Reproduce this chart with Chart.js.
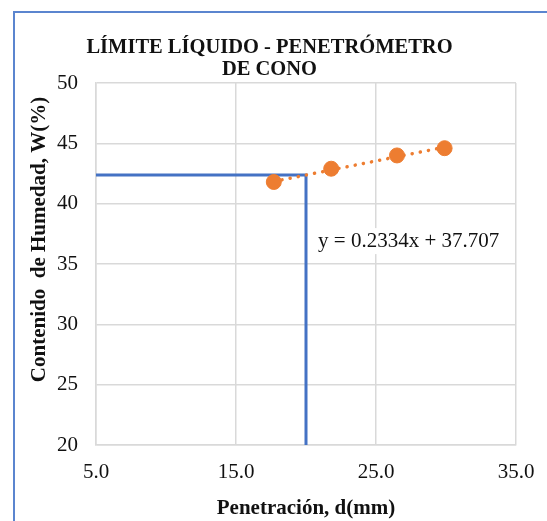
<!DOCTYPE html>
<html>
<head>
<meta charset="utf-8">
<script src="https://cdn.jsdelivr.net/npm/chart.js@4.4.1/dist/chart.umd.min.js"></script>
<style>
  html, body { margin: 0; padding: 0; background: #fff; }
  #wrap { position: relative; width: 547px; height: 521px; overflow: hidden; }
  #frame { position: absolute; left: 13px; top: 11px; width: 600px; height: 600px;
           border-left: 2px solid #5b85cf; border-top: 2px solid #5b85cf; }
  canvas { position: absolute; left: 0; top: 0; }
</style>
</head>
<body>
<div id="wrap">
  <div id="frame"></div>
  <canvas id="c" width="547" height="521"></canvas>
</div>
<script>
// ---- data ----
const penetration = [17.7, 21.8, 26.5, 29.9];   // d (mm)
const moisture    = [41.8, 42.9, 44.0, 44.6];   // W (%)
const trendSlope = 0.2334;
const trendIntercept = 37.707;
const targetPenetration = 20;                   // mm
const xTicks = [5, 15, 25, 35];
const yTicks = [20, 25, 30, 35, 40, 45, 50];
const titleLines = ['LÍMITE LÍQUIDO - PENETRÓMETRO', 'DE CONO'];
const xTitle = 'Penetración, d(mm)';
const yTitle = 'Contenido  de Humedad, W(%)';
const equationText = 'y = 0.2334x + 37.707';

// ---- derived ----
const points = penetration.map((x, i) => ({ x, y: moisture[i] }));
const xMinData = Math.min(...penetration), xMaxData = Math.max(...penetration);
const trend = [xMinData, xMaxData].map(x => ({ x, y: trendSlope * x + trendIntercept }));
const llValue = trendSlope * targetPenetration + trendIntercept;
const guide = [
  { x: xTicks[0], y: llValue },
  { x: targetPenetration, y: llValue },
  { x: targetPenetration, y: yTicks[0] }
];

const SERIF = '"Liberation Serif", "Times New Roman", serif';

const overlay = {
  id: 'overlay',
  afterDraw(chart) {
    const ctx = chart.ctx;
    const xs = chart.scales.x, ys = chart.scales.y;
    // equation label
    ctx.save();
    ctx.font = '21px ' + SERIF;
    const ex = xs.getPixelForValue(20.86), ey = ys.getPixelForValue(36.9);
    const w = ctx.measureText(equationText).width;
    ctx.fillStyle = '#fff';
    ctx.fillRect(ex - 5, ey - 13, w + 10, 26);
    ctx.fillStyle = '#111';
    ctx.textBaseline = 'middle';
    ctx.textAlign = 'left';
    ctx.fillText(equationText, ex, ey);
    ctx.restore();
    // y axis title
    ctx.save();
    ctx.font = 'bold 21px ' + SERIF;
    ctx.fillStyle = '#111';
    ctx.translate(40, 239.5);
    ctx.rotate(-Math.PI / 2);
    ctx.textAlign = 'center';
    ctx.textBaseline = 'middle';
    ctx.fillText(yTitle, 0, 0);
    ctx.restore();
  }
};

new Chart(document.getElementById('c'), {
  type: 'scatter',
  data: {
    datasets: [
      {
        label: 'guide',
        data: guide,
        showLine: true,
        borderColor: '#4472C4',
        borderWidth: 3,
        pointRadius: 0,
        fill: false,
        clip: false,
        order: 3
      },
      {
        label: 'trend',
        data: trend,
        showLine: true,
        borderColor: '#ED7D31',
        borderWidth: 3.5,
        borderDash: [0.1, 8.2],
        borderCapStyle: 'round',
        pointRadius: 0,
        fill: false,
        order: 2
      },
      {
        label: 'data',
        data: points,
        backgroundColor: '#ED7D31',
        borderColor: '#ED7D31',
        pointRadius: 7.5,
        pointHoverRadius: 7.5,
        order: 1
      }
    ]
  },
  options: {
    responsive: false,
    animation: false,
    events: [],
    layout: { padding: { left: 23, right: 31, top: 0, bottom: 0 } },
    plugins: {
      legend: { display: false },
      tooltip: { enabled: false },
      title: {
        display: true,
        text: titleLines,
        color: '#111',
        font: { family: SERIF, size: 20.5, weight: 'bold', lineHeight: 1.05 },
        padding: { top: 37, bottom: 3 }
      }
    },
    scales: {
      x: {
        type: 'linear',
        min: xTicks[0],
        max: xTicks[xTicks.length - 1],
        afterBuildTicks(scale) { scale.ticks = xTicks.map(v => ({ value: v })); },
        afterFit(scale) { scale.height = 76; scale.paddingLeft = 0; scale.paddingRight = 0; },
        ticks: {
          color: '#111',
          font: { family: SERIF, size: 21 },
          padding: 15,
          callback: v => Number(v).toFixed(1)
        },
        grid: { color: '#d9d9d9', lineWidth: 1.5, drawTicks: false },
        border: { color: '#d9d9d9', width: 1.5 },
        title: {
          display: true,
          text: xTitle,
          color: '#111',
          font: { family: SERIF, size: 21, weight: 'bold' },
          padding: { top: 2, bottom: 0 }
        }
      },
      y: {
        type: 'linear',
        min: yTicks[0],
        max: yTicks[yTicks.length - 1],
        afterBuildTicks(scale) { scale.ticks = yTicks.map(v => ({ value: v })); },
        afterFit(scale) { scale.width = 73; scale.paddingTop = 0; scale.paddingBottom = 0; },
        ticks: {
          color: '#111',
          font: { family: SERIF, size: 21 },
          padding: 18
        },
        grid: { color: '#d9d9d9', lineWidth: 1.5, drawTicks: false },
        border: { color: '#d9d9d9', width: 1.5 }
      }
    }
  },
  plugins: [overlay]
});
</script>
</body>
</html>
